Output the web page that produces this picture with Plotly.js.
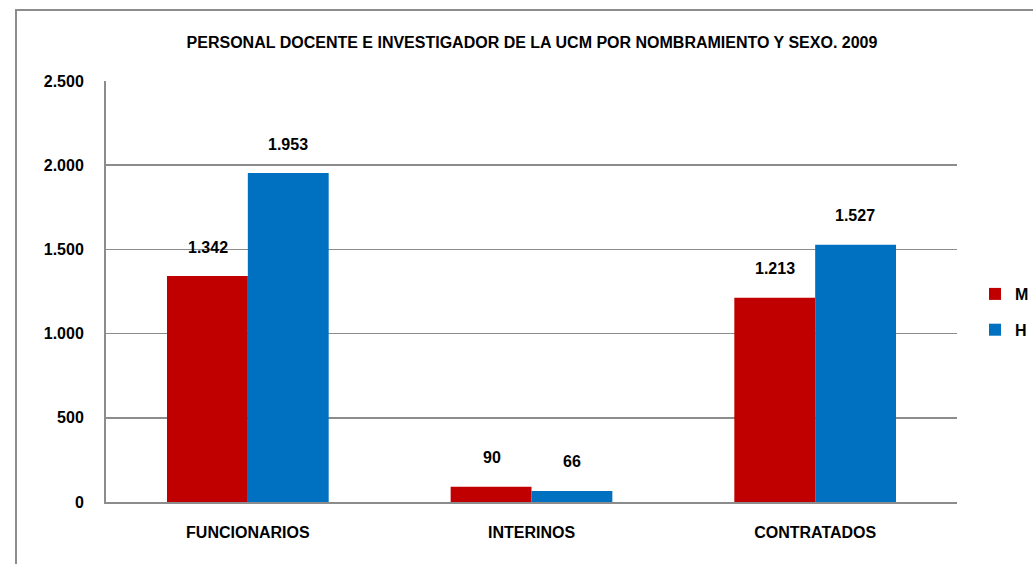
<!DOCTYPE html>
<html>
<head>
<meta charset="utf-8">
<script src="https://cdn.plot.ly/plotly-3.0.1.min.js"></script>
<style>
  html, body { margin: 0; padding: 0; background: #fff; }
  #wrap { position: relative; width: 1033px; height: 564px; overflow: hidden; }
  #frame { position: absolute; left: 15px; top: 9px; width: 1100px; height: 600px; border: 2px solid #8c8c8c; }
  #chart { position: absolute; left: 0; top: 0; width: 1033px; height: 564px; }
</style>
</head>
<body>
<div id="wrap">
  <div id="frame"></div>
  <div id="chart"></div>
</div>
<script>
const categories = ["FUNCIONARIOS", "INTERINOS", "CONTRATADOS"];
const seriesNames = ["M", "H"];
const valuesM = [1342, 90, 1213];
const valuesH = [1953, 66, 1527];
const yTicks = [0, 500, 1000, 1500, 2000, 2500];
const titleText = "PERSONAL DOCENTE E INVESTIGADOR DE LA UCM POR NOMBRAMIENTO Y SEXO. 2009";

const colors = ["#C00000", "#0070C0"];
const FS = 16;
const font = { family: "Liberation Sans, Arial, sans-serif", size: FS, color: "#000" };
const fmt = v => v.toString().replace(/\B(?=(\d{3})+(?!\d))/g, ".");

const traces = [valuesM, valuesH].map((vals, i) => ({
  type: "bar",
  name: "<b>" + seriesNames[i] + "</b>",
  x: categories,
  y: vals,
  marker: { color: colors[i], line: { width: 0 } },
  legendgroup: "g" + i,
  hoverinfo: "skip"
}));

const annotations = [];
[valuesM, valuesH].forEach((vals, i) => {
  vals.forEach((v, j) => {
    annotations.push({
      x: categories[j], y: v, xref: "x", yref: "y",
      text: "<b>" + fmt(v) + "</b>",
      showarrow: false,
      xshift: i === 0 ? -40 : 40,
      yshift: 29,
      yanchor: "middle",
      font: font
    });
  });
});

const layout = {
  width: 1033, height: 564,
  margin: { l: 106, r: 76, t: 81, b: 62, autoexpand: false },
  paper_bgcolor: "rgba(0,0,0,0)",
  plot_bgcolor: "rgba(0,0,0,0)",
  separators: ",.",
  font: font,
  title: {
    text: "<b>" + titleText + "</b>",
    x: 0.515, xanchor: "center", y: 1 - 42 / 564, yanchor: "middle",
    font: { family: font.family, size: FS, color: "#000" }
  },
  barmode: "group",
  bargap: 0.43,
  bargroupgap: 0,
  xaxis: {
    type: "category",
    showline: true, linecolor: "#8c8c8c", linewidth: 2,
    showgrid: false, ticks: "",
    tickfont: { family: font.family, size: FS, color: "#000", weight: "bold" },
    ticklabelstandoff: 15
  },
  yaxis: {
    range: [0, 2500],
    tickvals: yTicks,
    ticktext: yTicks.map(fmt),
    showline: true, linecolor: "#8c8c8c", linewidth: 2,
    showgrid: true, gridcolor: "#8c8c8c", gridwidth: 1.5,
    zeroline: false, ticks: "",
    tickfont: { family: font.family, size: FS, color: "#000", weight: "bold" },
    ticklabelstandoff: 17
  },
  legend: {
    x: 1 + (975 - 957) / 851, xanchor: "left",
    y: 1 - (312 - 81) / 421, yanchor: "middle",
    traceorder: "grouped",
    tracegroupgap: 12,
    font: { family: font.family, size: FS, color: "#000" },
    itemwidth: 30
  },
  showlegend: true,
  annotations: annotations
};

Plotly.newPlot("chart", traces, layout, { displayModeBar: false, staticPlot: true });
</script>
</body>
</html>
